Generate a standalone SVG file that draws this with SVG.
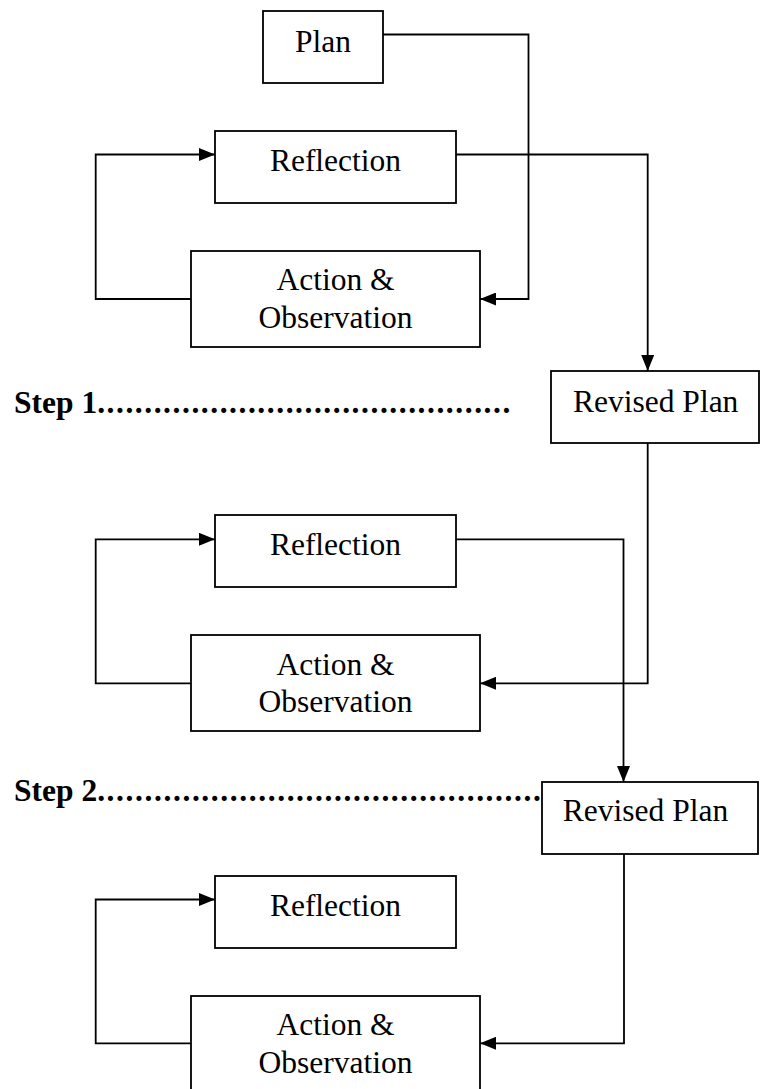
<svg xmlns="http://www.w3.org/2000/svg" width="760" height="1089" viewBox="0 0 760 1089">
<style>
.box{fill:#fff;stroke:#000;stroke-width:1.8}
.ln{fill:none;stroke:#000;stroke-width:1.8}
.t{font-family:"Liberation Serif","Times New Roman",serif;font-size:31.5px;fill:#000;text-anchor:middle}
.s{font-family:"Liberation Serif","Times New Roman",serif;font-size:31.5px;font-weight:bold;fill:#000}
</style>
<defs>
<marker id="ah" viewBox="0 0 16 13" refX="16" refY="6.5" markerWidth="16" markerHeight="13" markerUnits="userSpaceOnUse" orient="auto">
<path d="M0,0 L16,6.5 L0,13 z" fill="#000"/>
</marker>
</defs>
<rect width="760" height="1089" fill="#fff"/>
<g id="connectors">
<path class="ln" d="M383,34.5 H528.5 V299 H480" marker-end="url(#ah)"/>
<path class="ln" d="M191,299 H95.7 V154.5 H215" marker-end="url(#ah)"/>
<path class="ln" d="M456,154.5 H647.7 V371" marker-end="url(#ah)"/>
<path class="ln" d="M647.7,443 V683.3 H480" marker-end="url(#ah)"/>
<path class="ln" d="M191,683.3 H95.7 V539.3 H215" marker-end="url(#ah)"/>
<path class="ln" d="M456,539.3 H623.5 V782" marker-end="url(#ah)"/>
<path class="ln" d="M624,851 V1043.3 H480" marker-end="url(#ah)"/>
<path class="ln" d="M191,1043.3 H95.7 V899.5 H215" marker-end="url(#ah)"/>
</g>
<g id="plan"><rect class="box" x="263" y="11" width="120" height="72"/><text class="t" x="323" y="52">Plan</text></g>
<g id="reflection1"><rect class="box" x="215" y="131" width="241" height="72"/><text class="t" x="335.5" y="171">Reflection</text></g>
<g id="action1"><rect class="box" x="191" y="251" width="289" height="96"/><text class="t" x="335.5" y="290">Action &amp;</text><text class="t" x="335.5" y="328">Observation</text></g>
<g id="revised1"><rect class="box" x="551" y="371" width="208" height="72"/><text class="t" x="655.7" y="412">Revised Plan</text></g>
<g id="step1"><text class="s" x="14" y="412.7">Step 1<tspan letter-spacing="1.55">............................................</tspan></text></g>
<g id="reflection2"><rect class="box" x="215" y="515" width="241" height="72"/><text class="t" x="335.5" y="555">Reflection</text></g>
<g id="action2"><rect class="box" x="191" y="635" width="289" height="96"/><text class="t" x="335.5" y="675">Action &amp;</text><text class="t" x="335.5" y="712">Observation</text></g>
<g id="revised2"><rect class="box" x="542" y="782" width="216" height="72"/><text class="t" x="645.5" y="821">Revised Plan</text></g>
<g id="step2"><text class="s" x="14" y="800.7">Step 2<tspan letter-spacing="1.6">...............................................</tspan></text></g>
<g id="reflection3"><rect class="box" x="215" y="876" width="241" height="72"/><text class="t" x="335.5" y="916">Reflection</text></g>
<g id="action3"><rect class="box" x="191" y="996" width="289" height="96"/><text class="t" x="335.5" y="1035">Action &amp;</text><text class="t" x="335.5" y="1073">Observation</text></g>
</svg>
